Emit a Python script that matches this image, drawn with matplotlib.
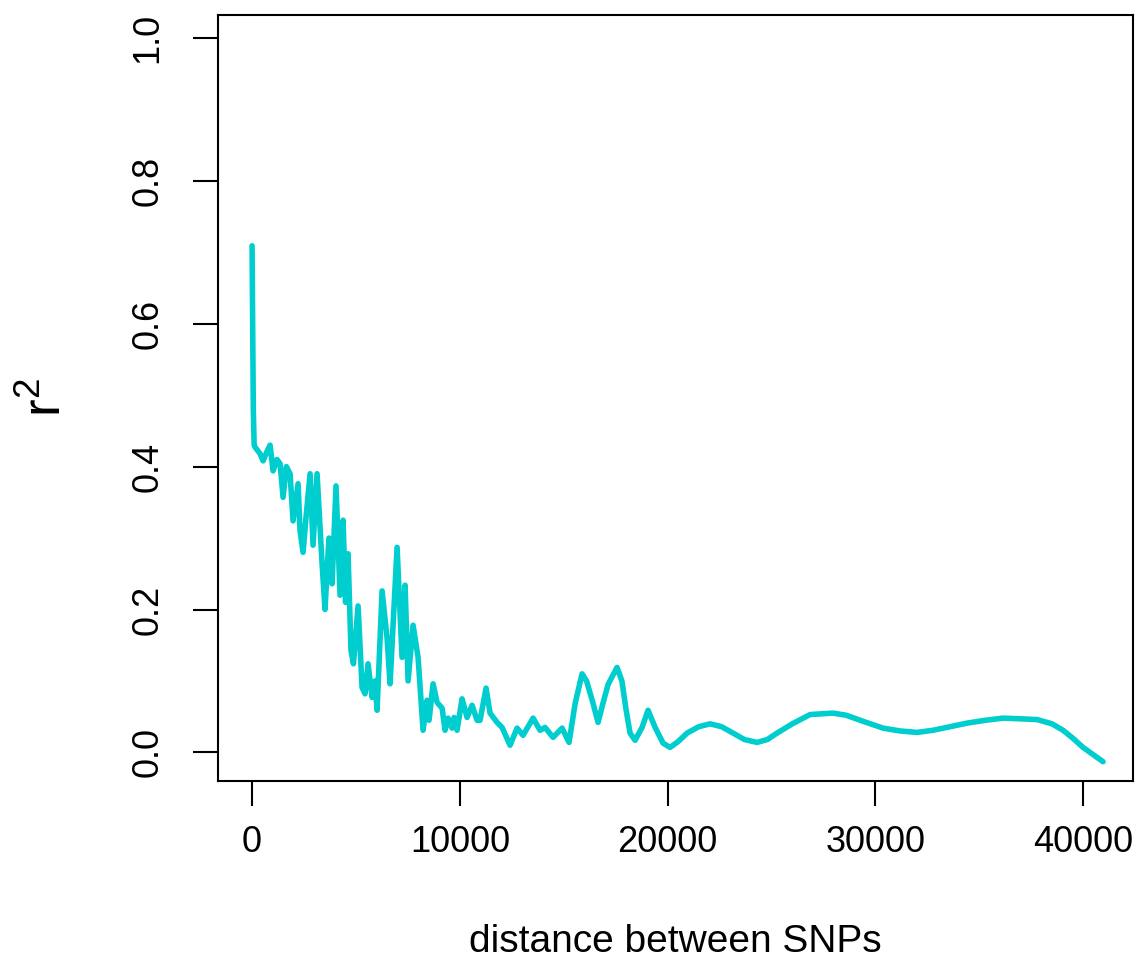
import matplotlib
matplotlib.use("Agg")
import matplotlib.pyplot as plt

distance = [
    0, 20, 60, 100, 150, 385, 529, 700, 866, 1011,
    1200, 1348, 1492, 1650, 1829, 1973, 2214, 2310, 2455, 2600,
    2792, 2936, 3128, 3370, 3510, 3700, 3850, 4040, 4235, 4380,
    4500, 4620, 4760, 4880, 5102, 5294, 5438, 5583, 5776, 5920,
    6016, 6257, 6498, 6642, 6979, 7220, 7364, 7508, 7749, 7990,
    8230, 8423, 8519, 8712, 8904, 9145, 9289, 9433, 9626, 9722,
    9867, 10107, 10348, 10589, 10829, 10974, 11262, 11455, 11792, 12033,
    12417, 12754, 13043, 13525, 13861, 14102, 14487, 14920, 15257, 15546,
    15883, 16100, 16400, 16653, 16900, 17134, 17567, 17800, 18000, 18193,
    18434, 18771, 19059, 19400, 19781, 20118, 20500, 20937, 21500, 22044,
    22600, 23151, 23700, 24306, 24800, 25268, 26000, 26857, 27964, 28600,
    29263, 30370, 31200, 32006, 32776, 33600, 34413, 35300, 36146, 37000,
    37782, 38500, 39033, 39500, 39996, 40959]
r2 = [
    0.709, 0.63, 0.48, 0.43, 0.427, 0.418, 0.408, 0.42, 0.43, 0.394,
    0.41, 0.404, 0.357, 0.40, 0.39, 0.324, 0.376, 0.31, 0.28, 0.33,
    0.39, 0.29, 0.39, 0.264, 0.20, 0.30, 0.236, 0.373, 0.22, 0.325,
    0.21, 0.278, 0.143, 0.124, 0.205, 0.091, 0.082, 0.124, 0.077, 0.10,
    0.059, 0.226, 0.16, 0.096, 0.287, 0.133, 0.234, 0.10, 0.178, 0.133,
    0.031, 0.073, 0.045, 0.096, 0.07, 0.062, 0.031, 0.048, 0.034, 0.049,
    0.031, 0.075, 0.049, 0.066, 0.045, 0.045, 0.09, 0.055, 0.042, 0.035,
    0.01, 0.034, 0.024, 0.048, 0.031, 0.035, 0.021, 0.034, 0.014, 0.068,
    0.11, 0.10, 0.07, 0.042, 0.07, 0.095, 0.119, 0.10, 0.06, 0.027,
    0.017, 0.035, 0.059, 0.035, 0.013, 0.007, 0.015, 0.027, 0.036, 0.04,
    0.036, 0.027, 0.018, 0.014, 0.018, 0.027, 0.04, 0.053, 0.055, 0.052,
    0.045, 0.034, 0.03, 0.028, 0.031, 0.036, 0.041, 0.045, 0.048, 0.047,
    0.046, 0.04, 0.031, 0.02, 0.007, -0.013]

x_ticks = [0, 10000, 20000, 30000, 40000]
y_ticks = [0.0, 0.2, 0.4, 0.6, 0.8, 1.0]
y_tick_labels = ["0.0", "0.2", "0.4", "0.6", "0.8", "1.0"]

plt.rcParams['font.family'] = ['Liberation Sans', 'DejaVu Sans']
plt.rcParams['mathtext.fontset'] = 'custom'
plt.rcParams['mathtext.rm'] = 'Liberation Sans'
plt.rcParams['mathtext.it'] = 'Liberation Sans'

fig = plt.figure(figsize=(11.48, 9.76), dpi=100)
ax = fig.add_axes([218/1148, 1 - 781/976, (1133-218)/1148, (781-15)/976])
ax.plot(distance, r2, color='#00CDCD', lw=4.0, solid_joinstyle='round',
        solid_capstyle='round')
ax.set_xlim(-1640, 42400)
ax.set_ylim(-0.04, 1.032)
ax.set_xticks(x_ticks)
ax.set_xticklabels([str(t) for t in x_ticks])
ax.set_yticks(y_ticks)
ax.set_yticklabels(y_tick_labels, rotation=90, va='center')
ax.tick_params(axis='both', direction='out', length=18, width=1.5, labelsize=26)
ax.tick_params(axis='x', pad=14)
ax.tick_params(axis='y', pad=20)
for s in ax.spines.values():
    s.set_linewidth(1.5)
ax.set_xlabel('distance between SNPs', fontsize=28, labelpad=46)
ax.set_ylabel(r'$\mathrm{r}^2$', fontsize=38, labelpad=42)
fig.savefig('out.png', dpi=100)
